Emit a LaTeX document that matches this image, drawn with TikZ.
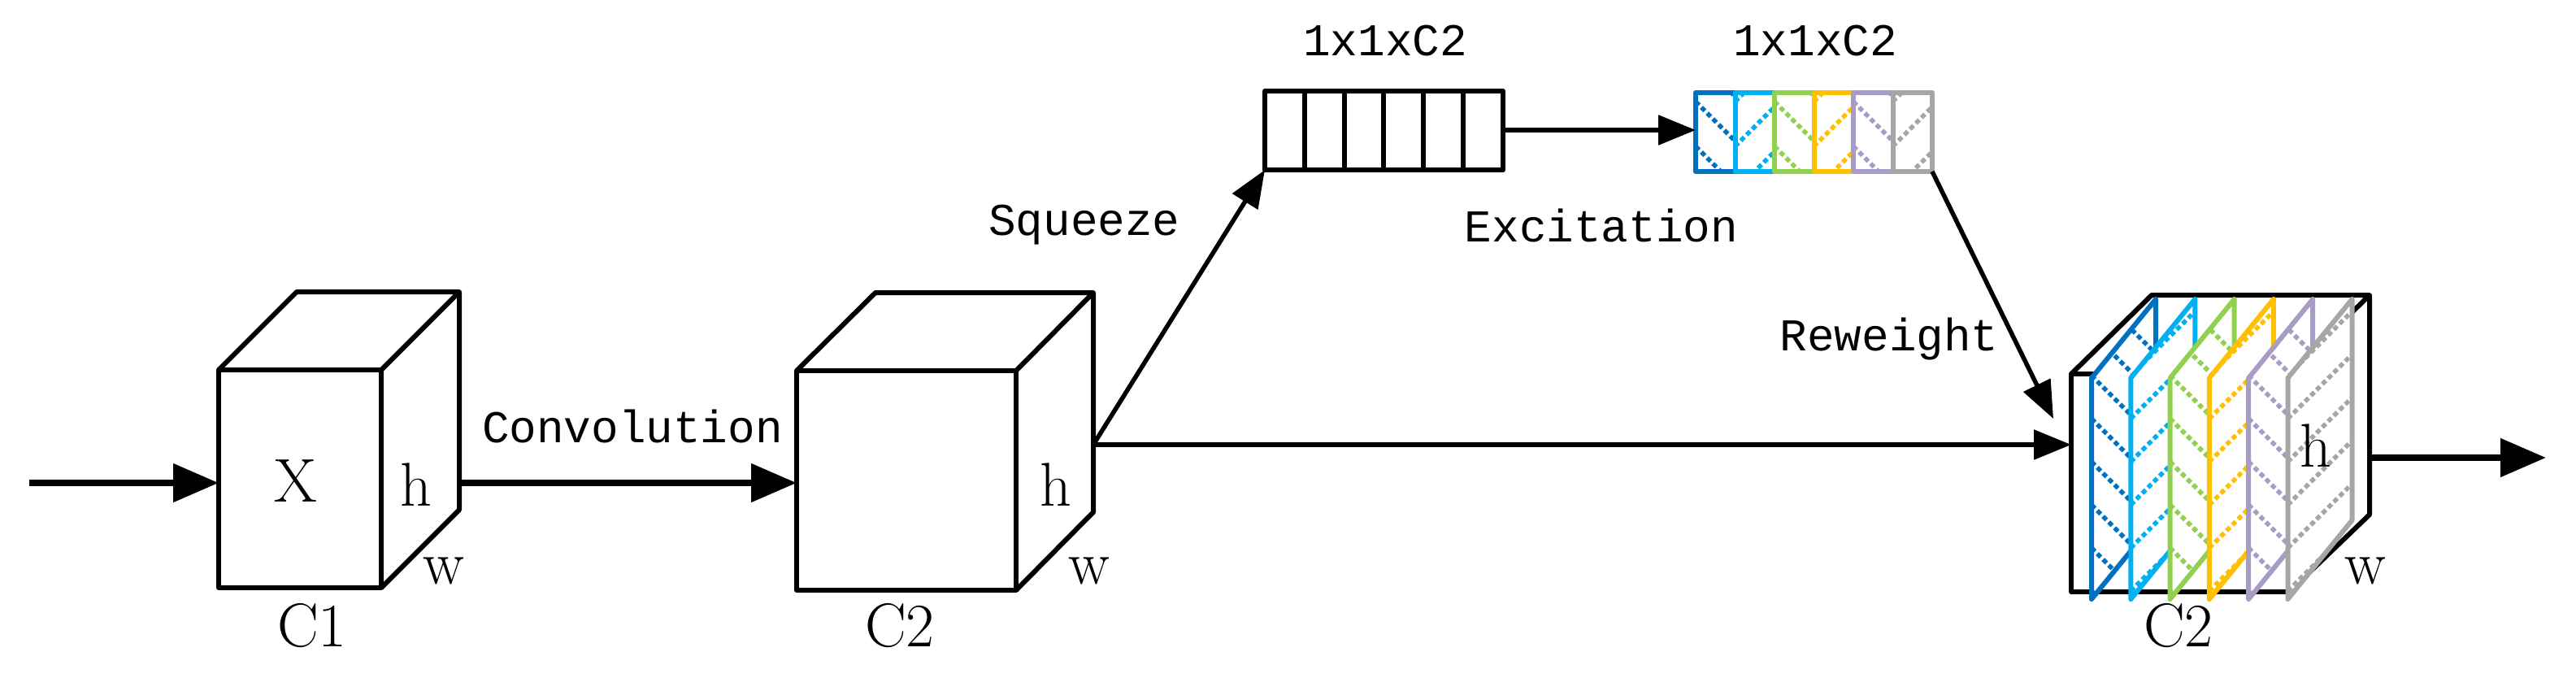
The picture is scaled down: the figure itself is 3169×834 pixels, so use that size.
\documentclass[tikz,border=0pt]{standalone}
\usepackage{fontspec}
\newfontfamily\monof{Liberation Mono}
\usetikzlibrary{arrows.meta}
\definecolor{cA}{HTML}{0070C0}
\definecolor{cB}{HTML}{00B0F0}
\definecolor{cC}{HTML}{92D050}
\definecolor{cD}{HTML}{FFC000}
\definecolor{cE}{HTML}{A89CC4}
\definecolor{cF}{HTML}{A6A6A6}
\tikzset{
  edge/.style={line width=6pt, line join=round},
  bigarrow/.style={line width=8pt,-{Triangle[length=56pt,width=46pt]}},
  thinarrow/.style={line width=5.5pt,-{Triangle[length=46pt,width=36pt]}},
  mono/.style={font=\monof\fontsize{56}{60}\selectfont},
  lab/.style={font=\fontsize{76}{80}\selectfont},
  dots/.style={line width=5.5pt,dash pattern=on 6pt off 4pt},
}
\begin{document}
\begin{tikzpicture}[x=1pt,y=-1pt]
\useasboundingbox (0,0) rectangle (3169,834);
% cube 1
\draw[edge] (269,455) rectangle (469,723);
\draw[edge] (269,455) -- (365,359) -- (565,359) -- (469,455);
\draw[edge] (565,359) -- (565,627) -- (469,723);
\coordinate (c1l) at (269,594);
\coordinate (c1r) at (565,594);
\node[lab] (x1) at (364,592) {X};
\node[lab] (h1) at (512,596) {h};
\node[lab] (w1) at (546,702) {w};
\node[lab] (k1) at (384,770) {C1};
% cube 2
\draw[edge] (980,456) rectangle (1250,726);
\draw[edge] (980,456) -- (1077,360) -- (1345,360) -- (1250,456);
\draw[edge] (1345,360) -- (1345,630) -- (1250,726);
\coordinate (c2l) at (980,594);
\coordinate (c2r) at (1345,547);
\node[lab] (h2) at (1299,596) {h};
\node[lab] (w2) at (1340,702) {w};
\node[lab] (k2) at (1107,770) {C2};
% box 1
\draw[edge] (1556,112) rectangle (1849,209);
\foreach \i in {1,...,5} \draw[edge] ({1556+\i*48.8},112) -- ({1556+\i*48.8},209);
\coordinate (b1l) at (1556,209);
\coordinate (b1r) at (1849,160);
\node[mono] (t1) at (1704,50) {1x1xC2};
% box 2
\foreach \i/\c/\s in {0/cA/1,1/cB/-1,2/cC/1,3/cD/-1,4/cE/1,5/cF/-1}{
  \begin{scope}
    \clip ({2086+\i*48.5},114) rectangle ({2086+(\i+1)*48.5},211);
    \foreach \yy in {-40,15,...,260}{
        \draw[dots,\c] ({2086+\i*48.5},\yy) -- ++(48.5,{\s*48.5});
    }
  \end{scope}
  \draw[line width=6pt,\c,line join=round] ({2086+\i*48.5},114) rectangle ({2086+(\i+1)*48.5},211);
}
\coordinate (b2l) at (2086,160);
\coordinate (b2r) at (2377,211);
\node[mono] (t2) at (2233,50) {1x1xC2};
% cube 3
\draw[edge] (2548,460) rectangle (2816,728);
\draw[edge] (2548,460) -- (2647,363) -- (2915,363) -- (2816,460);
\draw[edge] (2915,363) -- (2915,633) -- (2816,728);
\coordinate (c3l) at (2548,547);
\coordinate (c3t) at (2526,515);
\coordinate (c3r) at (2915,563);
\foreach \i/\c/\s in {0/cA/1,1/cB/-1,2/cC/1,3/cD/-1,4/cE/1,5/cF/-1}{
  \pgfmathsetmacro{\fx}{2573+\i*48.3}
  \begin{scope}
    \clip (\fx,737) -- (\fx,465) -- (\fx+79,368) -- (\fx+79,640) -- cycle;
    \fill[white] (\fx,737) -- (\fx,465) -- (\fx+79,368) -- (\fx+79,640) -- cycle;
    \foreach \yy in {250,303,...,820}{
        \draw[dots,\c] (\fx,\yy) -- ++(120,{\s*120});
    }
  \end{scope}
  \draw[line width=6pt,\c,line join=round] (\fx,737) -- (\fx,465) -- (\fx+79,368) -- (\fx+79,640) -- cycle;
}
\node[lab] (h3) at (2849,548) {h};
\node[lab] (w3) at (2910,702) {w};
\node[lab] (k3) at (2680,770) {C2};
% connectors
\coordinate (in) at (36,594);
\coordinate (out) at (3132,563);
\draw[bigarrow] (in) -- (c1l);
\draw[bigarrow] (c1r) -- (c2l);
\draw[thinarrow] (c2r) -- (b1l);
\draw[thinarrow] (b1r) -- (b2l);
\draw[thinarrow] (b2r) -- (c3t);
\draw[thinarrow] (c2r) -- (c3l);
\draw[bigarrow] (c3r) -- (out);
\node[mono] (conv) at (778,524) {Convolution};
\node[mono] (sq) at (1334,277) {Squeeze};
\node[mono] (ex) at (1970,277) {Excitation};
\node[mono] (rw) at (2324,417) {Reweight};
\end{tikzpicture}
\end{document}
